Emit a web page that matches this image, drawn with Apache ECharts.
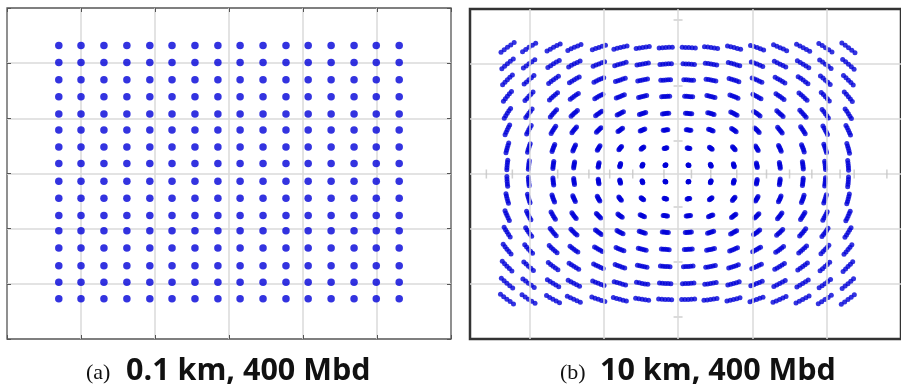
<!DOCTYPE html>
<html><head><meta charset="utf-8">
<script src="https://cdn.jsdelivr.net/npm/echarts@6/dist/echarts.min.js"></script>
<style>html,body{margin:0;padding:0;background:#fff}#c{width:901px;height:391px}</style>
</head><body><div id="c"></div>
<script>
// (a) ideal 256-QAM constellation: in-phase / quadrature levels (axis units)
const levelsAI = [-2.30,-2.00,-1.69,-1.38,-1.07,-0.77,-0.46,-0.15,0.15,0.46,0.77,1.07,1.38,1.69,1.99,2.30];
const levelsAQ = [2.32,2.01,1.70,1.39,1.08,0.79,0.48,0.18,-0.14,-0.45,-0.76,-1.04,-1.35,-1.67,-1.97,-2.27];
// (b) received constellation: cluster centres and the phase smear seen in each cluster (degrees)
const levelsBI = [-2.30,-2.01,-1.68,-1.40,-1.07,-0.78,-0.48,-0.17,0.14,0.44,0.75,1.06,1.37,1.68,1.98,2.29];
const levelsBQ = [2.30,2.00,1.71,1.41,1.10,0.80,0.47,0.16,-0.14,-0.45,-0.76,-1.06,-1.37,-1.68,-1.99,-2.28];
const smearDegB = [-2.3,-1.2,-0.1,1.0,2.1];
// grid lines and centre-axis tick marks of panel (b)
const gridLinesB = [-2,-1,0,1,2];
const centreTicksBI = [-2.58,-2.23,-1.62,-1.20,-0.92,-0.61,-0.19,0.18,0.44,0.79,1.19,1.50,1.80,2.18,2.37,2.81];
const centreTicksBQ = [2.8,1.6,0.6,-0.6,-1.6,-2.6];
// captions
const captionTags = ['(a)','(b)'];
const captionTexts = ['0.1 km, 400 Mbd','10 km, 400 Mbd'];

const ptsA = [];
levelsAQ.forEach(q => levelsAI.forEach(i => ptsA.push([i, q])));
const ptsB = [];
levelsBQ.forEach(q => levelsBI.forEach(i => {
  smearDegB.forEach(d => {
    const t = d * Math.PI / 180;
    ptsB.push([i * Math.cos(t) - q * Math.sin(t), i * Math.sin(t) + q * Math.cos(t)]);
  });
}));

const chart = echarts.init(document.getElementById('c'), null, {renderer:'canvas'});
const hidden = {axisLine:{show:false,onZero:false}, axisLabel:{show:false}};
const tickA = {show:true, inside:true, length:4, lineStyle:{color:'#555', width:1}};
const split = {show:true, showMinLine:false, showMaxLine:false, lineStyle:{color:'#dadada', width:1.5}};
chart.setOption({
  animation:false,
  backgroundColor:'#fff',
  grid:[
    {left:7, top:8, width:444, height:331, show:true, borderColor:'#555', borderWidth:1.3, backgroundColor:'#fff'},
    {left:470, top:9, width:440.8, height:330, show:true, borderColor:'#333', borderWidth:2.5, backgroundColor:'#fff'}
  ],
  xAxis:[
    Object.assign({gridIndex:0, type:'value', min:-3, max:3, interval:1, position:'bottom', axisTick:tickA, splitLine:split}, hidden),
    Object.assign({gridIndex:0, type:'value', min:-3, max:3, interval:1, position:'top', axisTick:tickA, splitLine:{show:false}}, hidden),
    Object.assign({gridIndex:1, type:'value', min:-2.8, max:3.0, axisTick:{show:false}, splitLine:{show:false}}, hidden)
  ],
  yAxis:[
    Object.assign({gridIndex:0, type:'value', min:-3, max:3, interval:1, position:'left', axisTick:tickA, splitLine:split}, hidden),
    Object.assign({gridIndex:0, type:'value', min:-3, max:3, interval:1, position:'right', axisTick:tickA, splitLine:{show:false}}, hidden),
    Object.assign({gridIndex:1, type:'value', min:-3, max:3, interval:1, axisTick:{show:false}, splitLine:split}, hidden)
  ],
  series:[
    {type:'scatter', xAxisIndex:0, yAxisIndex:0, data:ptsA, symbolSize:7.5, itemStyle:{color:'#0000d8'}, silent:true, z:3},
    {type:'scatter', xAxisIndex:2, yAxisIndex:2, data:[[0,0]], symbolSize:0, silent:true, z:1,
      markLine:{silent:true, symbol:'none', label:{show:false}, lineStyle:{color:'#dadada', width:1.5, type:'solid'},
        data: gridLinesB.map(v => ({xAxis:v}))}},
    {type:'scatter', xAxisIndex:2, yAxisIndex:2, data:centreTicksBI.map(v => [v,0]), symbol:'rect', symbolSize:[1.5,9], itemStyle:{color:'#c4c4c4'}, silent:true, z:1},
    {type:'scatter', xAxisIndex:2, yAxisIndex:2, data:centreTicksBQ.map(v => [0,v]), symbol:'rect', symbolSize:[9,1.5], itemStyle:{color:'#c4c4c4'}, silent:true, z:1},
    {type:'scatter', xAxisIndex:2, yAxisIndex:2, data:ptsB, symbolSize:5, itemStyle:{color:'#0000d8'}, silent:true, z:3}
  ],
  graphic:[
    {type:'text', left:86, top:362, style:{text:captionTags[0], font:'22px "Liberation Serif"', fill:'#111'}},
    {type:'text', left:126, top:356, style:{text:captionTexts[0], font:'bold 30.5px "Open Sans"', fill:'#111'}},
    {type:'text', left:560, top:362, style:{text:captionTags[1], font:'22px "Liberation Serif"', fill:'#111'}},
    {type:'text', left:600, top:356, style:{text:captionTexts[1], font:'bold 30.5px "Open Sans"', fill:'#111'}}
  ]
});
</script></body></html>
